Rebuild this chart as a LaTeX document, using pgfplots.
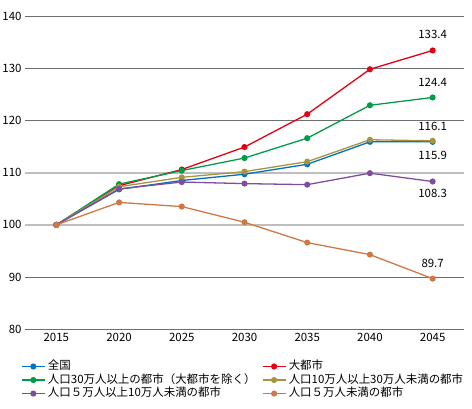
\documentclass[border=0pt]{standalone}
\usepackage{pgfplots}
\pgfplotsset{compat=1.18}
\usepackage{fontspec}
\setmainfont{Noto Sans CJK JP}

\definecolor{cBlue}{RGB}{0,112,192}
\definecolor{cRed}{RGB}{228,0,18}
\definecolor{cGreen}{RGB}{0,156,72}
\definecolor{cOlive}{RGB}{165,150,62}
\definecolor{cPurple}{RGB}{126,78,158}
\definecolor{cOrange}{RGB}{206,120,70}
\definecolor{gridDark}{RGB}{110,110,110}
\definecolor{gridLight}{RGB}{190,190,190}

\pgfplotsset{ser/.style={color=#1, line width=1.3pt, mark=*, mark size=2.4pt,
    mark options={solid, fill=#1}}}

\begin{document}
\begin{tikzpicture}
\path[use as bounding box] (0,0) rectangle (472bp,409bp);
\begin{axis}[
    at={(25bp,79.7bp)}, anchor=south west,
    scale only axis,
    width=439bp, height=313.3bp,
    xmin=2012.5, xmax=2047.5,
    ymin=80, ymax=140,
    xtick={2015,2020,...,2045},
    ytick={80,90,120,130,140},
    extra y ticks={100,110},
    ymajorgrids,
    grid style={gridDark, line width=0.8pt},
    extra y tick style={grid style={gridLight, line width=1.8pt}},
    axis line style={draw=none},
    major tick length=0pt,
    tick label style={
        font=\fontsize{11.5}{13}\selectfont,
        /pgf/number format/assume math mode=true,
        /pgf/number format/1000 sep={}
    },
    legend columns=2,
    legend cell align=left,
    legend style={
        at={(axis description cs:0,0)}, anchor=north west,
        xshift=-4bp, yshift=-31bp,
        draw=none, fill=none, inner sep=0pt,
        font=\fontsize{11.5}{13}\selectfont,
        nodes={inner sep=0.5pt, text height=8.5pt, text depth=2.5pt},
        row sep=1.6pt,
        /tikz/every odd column/.append style={column sep=2pt},
        /tikz/every even column/.append style={column sep=6bp},
    },
    legend image code/.code={
        \draw[mark repeat=2, mark phase=2, #1]
            plot coordinates {(0bp,0bp) (11.5bp,0bp) (23bp,0bp)};
    },
]
\addplot[ser=cBlue] coordinates {
    (2015,100) (2020,106.8) (2025,108.5) (2030,109.7)
    (2035,111.6) (2040,115.9) (2045,115.9)};
\addlegendentry{全国}
\addplot[ser=cRed] coordinates {
    (2015,100) (2020,107.5) (2025,110.6) (2030,114.9)
    (2035,121.2) (2040,129.8) (2045,133.4)};
\addlegendentry{大都市}
\addplot[ser=cGreen] coordinates {
    (2015,100) (2020,107.8) (2025,110.4) (2030,112.8)
    (2035,116.6) (2040,122.9) (2045,124.4)};
\addlegendentry{人口30万人以上の都市（大都市を除く）}
\addplot[ser=cOlive] coordinates {
    (2015,100) (2020,107.3) (2025,109.1) (2030,110.2)
    (2035,112.1) (2040,116.3) (2045,116.1)};
\addlegendentry{人口10万人以上30万人未満の都市}
\addplot[ser=cPurple] coordinates {
    (2015,100) (2020,106.9) (2025,108.2) (2030,107.9)
    (2035,107.7) (2040,109.9) (2045,108.3)};
\addlegendentry{人口５万人以上10万人未満の都市}
\addplot[ser=cOrange] coordinates {
    (2015,100) (2020,104.3) (2025,103.5) (2030,100.5)
    (2035,96.6) (2040,94.3) (2045,89.7)};
\addlegendentry{人口５万人未満の都市}

\begin{scope}[every node/.style={font=\fontsize{11.5}{13}\selectfont, inner sep=0pt}]
\node[yshift=16bp] at (axis cs:2045,133.4) {133.4};
\node[yshift=15bp] at (axis cs:2045,124.4) {124.4};
\node[yshift=14bp] at (axis cs:2045,116.1) {116.1};
\node[yshift=-13.5bp] at (axis cs:2045,115.9) {115.9};
\node[yshift=-12bp] at (axis cs:2045,108.3) {108.3};
\node[yshift=15bp] at (axis cs:2045,89.7) {89.7};
\end{scope}
\end{axis}
\end{tikzpicture}
\end{document}
